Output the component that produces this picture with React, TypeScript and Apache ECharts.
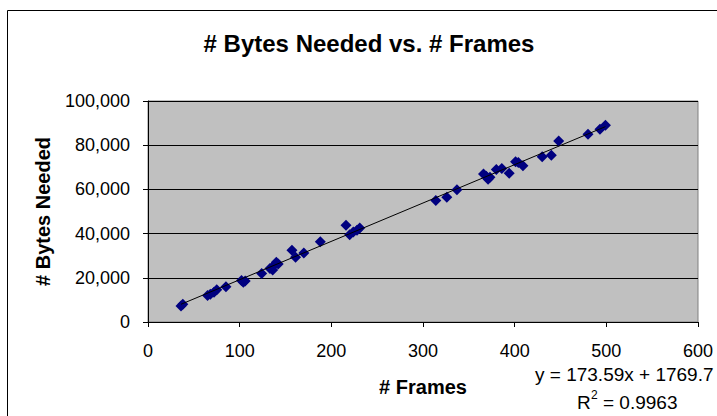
import React, { useEffect, useRef } from "react";
import * as echarts from "echarts";

const frames = [36, 38, 65, 68, 72, 75, 85, 102, 104, 106, 124, 133, 136, 137, 140, 142, 157, 161, 170, 188, 216, 220, 224, 228, 231, 314, 326, 337, 366, 369, 371, 373, 380, 386, 394, 401, 404, 409, 430, 440, 448, 480, 493, 499];
const bytes = [7200, 8000, 12000, 12600, 13500, 14600, 16000, 18800, 18000, 18500, 22000, 24200, 23500, 25500, 27000, 26200, 32500, 29300, 31200, 36300, 43800, 39500, 40700, 41500, 42500, 55000, 56500, 59800, 67000, 66000, 64600, 65500, 69000, 69500, 67300, 72500, 72200, 70700, 74800, 75500, 81900, 85000, 87200, 89000];

const slope = 173.59;
const intercept = 1769.7;
const rSquared = "0.9963";
const trendX = [36, 499];

const titleText = "# Bytes Needed vs. # Frames";
const xName = "# Frames";
const yName = "# Bytes Needed";

export default function App() {
  const ref = useRef<HTMLDivElement>(null);
  useEffect(() => {
    if (!ref.current) return;
    const chart = echarts.init(ref.current, null, { renderer: "svg" });
    const font = "'Liberation Sans', Arial, sans-serif";
    chart.setOption({
      animation: false,
      backgroundColor: "#ffffff",
      textStyle: { fontFamily: font },
      grid: {
        left: 148,
        right: 19,
        top: 101,
        bottom: 94,
        show: true,
        backgroundColor: "#C0C0C0",
        borderColor: "#808080",
        borderWidth: 1,
      },
      xAxis: {
        type: "value",
        min: 0,
        max: 600,
        interval: 100,
        name: xName,
        nameLocation: "middle",
        nameGap: 55,
        nameTextStyle: { fontFamily: font, fontSize: 20, fontWeight: "bold", color: "#000" },
        axisLine: { show: true, onZero: false, lineStyle: { color: "#000", width: 1 } },
        axisTick: { show: true, length: 5, inside: false, lineStyle: { color: "#000" } },
        axisLabel: { fontFamily: font, fontSize: 18, color: "#000", margin: 20 },
        splitLine: { show: false },
      },
      yAxis: {
        type: "value",
        min: 0,
        max: 100000,
        interval: 20000,
        name: yName,
        nameLocation: "middle",
        nameGap: 95,
        nameTextStyle: { fontFamily: font, fontSize: 20, fontWeight: "bold", color: "#000" },
        axisLine: { show: true, lineStyle: { color: "#000", width: 1 } },
        axisTick: { show: true, length: 5, inside: false, lineStyle: { color: "#000" } },
        axisLabel: {
          fontFamily: font,
          fontSize: 18,
          color: "#000",
          margin: 18,
          formatter: (v: number) => v.toLocaleString("en-US"),
        },
        splitLine: { show: true, lineStyle: { color: "#000", width: 1 } },
      },
      graphic: [
        {
          type: "rect",
          shape: { x: 7.5, y: 10.5, width: 800, height: 500 },
          style: { fill: "none", stroke: "#000", lineWidth: 1 },
          silent: true,
          z: -10,
        },
        {
          type: "text",
          x: 369,
          y: 43,
          style: {
            text: titleText,
            font: `bold 24px ${font}`,
            fill: "#000",
            textAlign: "center",
            textVerticalAlign: "middle",
          },
        },
        {
          type: "text",
          x: 535,
          y: 374,
          style: {
            text: `y = ${slope}x + ${intercept}`,
            font: `19px ${font}`,
            fill: "#000",
            textAlign: "left",
            textVerticalAlign: "middle",
          },
        },
        {
          type: "text",
          x: 577,
          y: 402,
          style: { text: "R", font: `19px ${font}`, fill: "#000", textAlign: "left", textVerticalAlign: "middle" },
        },
        {
          type: "text",
          x: 591,
          y: 395,
          style: { text: "2", font: `12px ${font}`, fill: "#000", textAlign: "left", textVerticalAlign: "middle" },
        },
        {
          type: "text",
          x: 603,
          y: 402,
          style: { text: `= ${rSquared}`, font: `19px ${font}`, fill: "#000", textAlign: "left", textVerticalAlign: "middle" },
        },
      ],
      series: [
        {
          type: "line",
          data: trendX.map((x) => [x, slope * x + intercept]),
          showSymbol: false,
          symbol: "none",
          lineStyle: { color: "#000", width: 1 },
          silent: true,
          z: 3,
        },
        {
          type: "scatter",
          data: frames.map((f, i) => [f, bytes[i]]),
          symbol: "diamond",
          symbolSize: 11,
          itemStyle: { color: "#000080", opacity: 1 },
          z: 2,
        },
      ],
    });
    return () => chart.dispose();
  }, []);
  return <div ref={ref} style={{ width: 717, height: 416, position: "absolute", left: 0, top: 0 }} />;
}
